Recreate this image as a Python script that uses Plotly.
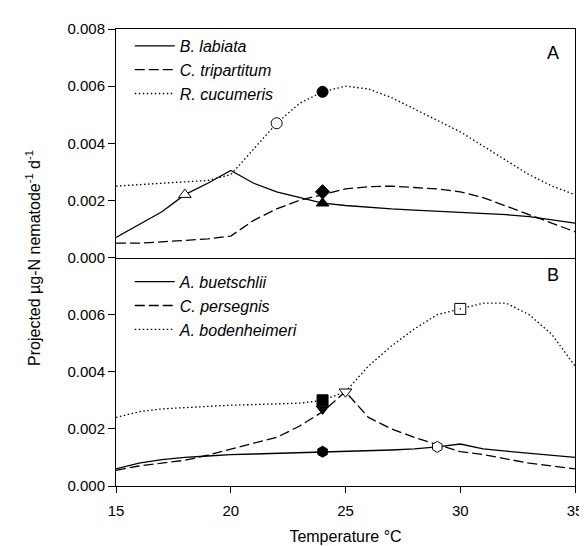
import plotly.graph_objects as go
from plotly.subplots import make_subplots

# ---------------- data ----------------
temps = list(range(15, 36))

# Panel A
b_labiata = [0.0007, 0.00115, 0.0016, 0.0022, 0.0026, 0.00305, 0.0026, 0.0023, 0.0021,
             0.0019, 0.00182, 0.00175, 0.0017, 0.00166, 0.00162, 0.00158, 0.00154,
             0.0015, 0.00143, 0.00132, 0.0012]
c_tripartitum = [0.0005, 0.0005, 0.00055, 0.0006, 0.00065, 0.00075, 0.0013, 0.0017, 0.002,
                 0.0022, 0.0024, 0.00248, 0.0025, 0.00245, 0.0024, 0.0023, 0.0021,
                 0.0018, 0.0015, 0.0012, 0.0009]
r_cucumeris = [0.0025, 0.00255, 0.0026, 0.00265, 0.0027, 0.0029, 0.0038, 0.0047, 0.0054,
               0.0058, 0.006, 0.0059, 0.0056, 0.0052, 0.0048, 0.0044, 0.0039,
               0.0034, 0.0029, 0.0025, 0.0022]

# Panel B
a_buetschlii = [0.0006, 0.0008, 0.00092, 0.001, 0.00105, 0.0011, 0.00112, 0.00114, 0.00116,
                0.00118, 0.0012, 0.00122, 0.00126, 0.0013, 0.00137, 0.00147, 0.0013,
                0.00122, 0.00115, 0.00108, 0.001]
c_persegnis = [0.00055, 0.0007, 0.0008, 0.0009, 0.00108, 0.0013, 0.0015, 0.0017, 0.0021,
               0.0026, 0.0033, 0.0024, 0.002, 0.0017, 0.00145, 0.0012, 0.0011,
               0.00095, 0.0008, 0.0007, 0.0006]
a_bodenheimeri = [0.0024, 0.0026, 0.0027, 0.00275, 0.0028, 0.00283, 0.00285, 0.00288, 0.0029,
                  0.003, 0.0033, 0.0042, 0.0049, 0.0055, 0.006, 0.0062, 0.0064,
                  0.0064, 0.006, 0.0053, 0.0042]

# Highlighted points
marks_a_x = [18, 22, 24, 24, 24]
marks_a_y = [0.0022, 0.0047, 0.0058, 0.0023, 0.0019]
marks_a_sym = ["triangle-up", "circle", "circle", "diamond", "triangle-up"]
marks_a_fill = ["white", "white", "black", "black", "black"]

marks_b_x = [24, 24, 24, 25, 29, 30]
marks_b_y = [0.0012, 0.003, 0.0027, 0.0033, 0.00137, 0.0062]
marks_b_sym = ["hexagon", "square", "triangle-down", "triangle-down", "hexagon", "square-dot"]
marks_b_fill = ["black", "black", "black", "white", "white", "white"]

x_ticks = [15, 20, 25, 30, 35]
y_ticks_a = [0.0, 0.002, 0.004, 0.006, 0.008]
y_ticks_b = [0.0, 0.002, 0.004, 0.006]

# ---------------- figure ----------------
fig = make_subplots(rows=2, cols=1, shared_xaxes=True, vertical_spacing=0)

solid = dict(color="black", width=1.3)
dashed = dict(color="black", width=1.3, dash="10px,4px")
dotted = dict(color="black", width=1.3, dash="1.5px,2.5px")

fig.add_trace(go.Scatter(x=temps, y=b_labiata, mode="lines", line=solid,
                         name="<i>B. labiata</i>", legend="legend"), row=1, col=1)
fig.add_trace(go.Scatter(x=temps, y=c_tripartitum, mode="lines", line=dashed,
                         name="<i>C. tripartitum</i>", legend="legend"), row=1, col=1)
fig.add_trace(go.Scatter(x=temps, y=r_cucumeris, mode="lines", line=dotted,
                         name="<i>R. cucumeris</i>", legend="legend"), row=1, col=1)
fig.add_trace(go.Scatter(x=marks_a_x, y=marks_a_y, mode="markers", showlegend=False,
                         marker=dict(symbol=marks_a_sym, color=marks_a_fill, size=11,
                                     line=dict(color="black", width=1))), row=1, col=1)

fig.add_trace(go.Scatter(x=temps, y=a_buetschlii, mode="lines", line=solid,
                         name="<i>A. buetschlii</i>", legend="legend2"), row=2, col=1)
fig.add_trace(go.Scatter(x=temps, y=c_persegnis, mode="lines", line=dashed,
                         name="<i>C. persegnis</i>", legend="legend2"), row=2, col=1)
fig.add_trace(go.Scatter(x=temps, y=a_bodenheimeri, mode="lines", line=dotted,
                         name="<i>A. bodenheimeri</i>", legend="legend2"), row=2, col=1)
fig.add_trace(go.Scatter(x=marks_b_x, y=marks_b_y, mode="markers", showlegend=False,
                         marker=dict(symbol=marks_b_sym, color=marks_b_fill, size=11,
                                     line=dict(color="black", width=1))), row=2, col=1)

fam = "Liberation Sans, Arial, sans-serif"
tick_font = dict(family=fam, size=15, color="black")
leg_font = dict(family=fam, size=16, color="black")
title_font = dict(family=fam, size=16, color="black")

axis_common = dict(showline=True, linecolor="black", linewidth=1,
                   showgrid=False, zeroline=False, tickcolor="black", tickfont=tick_font)

fig.update_xaxes(range=[15, 35], tickvals=x_ticks, **axis_common)
fig.update_xaxes(showticklabels=False, ticks="", mirror=True, row=1, col=1)
fig.update_xaxes(ticks="outside", ticklen=6, mirror=False, ticklabelstandoff=5,
                 title=dict(text="Temperature °C", font=title_font, standoff=12),
                 row=2, col=1)
fig.update_yaxes(range=[0, 0.008], tickformat=".3f", ticks="outside", ticklen=7,
                 mirror=True, **axis_common)
fig.update_yaxes(tickvals=y_ticks_a, row=1, col=1)
fig.update_yaxes(tickvals=y_ticks_b, row=2, col=1)

legend_common = dict(bgcolor="rgba(0,0,0,0)", font=leg_font, xanchor="left", yanchor="top",
                     tracegroupgap=0, itemwidth=40)
fig.update_layout(
    width=587, height=546,
    margin=dict(l=108, r=12, t=19, b=68),
    plot_bgcolor="white", paper_bgcolor="white",
    font=tick_font,
    legend=dict(x=0.03, y=1.0, **legend_common),
    legend2=dict(x=0.03, y=0.484, **legend_common),
    annotations=[
        dict(text="A", x=0.97, y=0.974, xref="paper", yref="paper", showarrow=False,
             xanchor="right", yanchor="top", font=dict(family=fam, size=18, color="black")),
        dict(text="B", x=0.97, y=0.488, xref="paper", yref="paper", showarrow=False,
             xanchor="right", yanchor="top", font=dict(family=fam, size=18, color="black")),
        dict(text="Projected µg-N nematode<sup>-1</sup> d<sup>-1</sup>", textangle=-90,
             x=-0.182, y=0.5, xref="paper", yref="paper", showarrow=False,
             xanchor="center", yanchor="middle", font=title_font),
    ],
)

fig.write_html("out.html")
